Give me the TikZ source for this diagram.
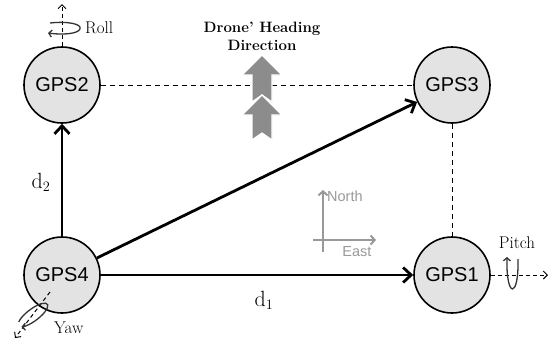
\documentclass[tikz,border=0pt]{standalone}
\usepackage{fontspec}
\newfontfamily\gpsfont{Liberation Sans}
\usetikzlibrary{arrows.meta}
\begin{document}
\begin{tikzpicture}[x=1pt,y=-1pt,
  gps/.style={circle, draw=black, line width=1.6pt, fill=gray!22, minimum size=76pt, inner sep=0pt,
    font=\gpsfont\fontsize{20}{22}\selectfont},
  link/.style={line width=2.8pt, -{Straight Barb[length=8pt,width=15pt]}},
  dashlink/.style={line width=1pt, dash pattern=on 5pt off 4pt},
  axisarrow/.style={line width=1pt, dash pattern=on 4pt off 3pt, -{Straight Barb[length=4pt,width=8pt]}},
  rot/.style={line width=1.3pt, draw=black!80, -{Straight Barb[length=3pt,width=7pt]}},
  lab/.style={font=\fontsize{17}{20}\selectfont, inner sep=0pt},
  dlab/.style={font=\fontsize{22}{24}\selectfont, inner sep=0pt},
  compass/.style={draw=black!40, line width=2pt, -{Straight Barb[length=4pt,width=9pt]}},
  compasslab/.style={text=black!40, font=\gpsfont\fontsize{14.5}{16}\selectfont, inner sep=0pt},
  heading/.style={fill=black!45, draw=white, line width=1.2pt},
  headlab/.style={font=\bfseries\fontsize{15}{18}\selectfont, align=center, inner sep=0pt}
]
\useasboundingbox[fill=white] (0,0) rectangle (555,346);

% GPS nodes
\node[gps] (g2) at (62,85) {GPS2};
\node[gps] (g3) at (452,85) {GPS3};
\node[gps] (g1) at (452,275) {GPS1};
\node[gps] (g4) at (62,275) {GPS4};

% dashed links
\draw[dashlink] (g2) -- (g3);
\draw[dashlink] (g3) -- (g1);

% heading arrows
\path[heading] (262,55) -- (282,75) -- (272,75) -- (272,102) -- (262,95) -- (252,102) -- (252,75) -- (242,75) -- cycle;
\path[heading] (262,95) -- (282,115) -- (272,115) -- (272,140) -- (262,133) -- (252,140) -- (252,115) -- (242,115) -- cycle;
\node[headlab] (hl) at (262,36) {Drone' Heading\\Direction};

% solid links
\draw[link] (g4) -- (g2);
\draw[link] (g4) -- (g1);
\draw[link] (g4) -- (g3);

\node[dlab] (d2) at (41,182) {d$_2$};
\node[dlab] (d1) at (264,300) {d$_1$};

% compass
\coordinate (nb) at (323,252);
\coordinate (nt) at (323,190);
\coordinate (el) at (313,240);
\coordinate (er) at (376,240);
\draw[compass] (nb) -- (nt);
\draw[compass] (el) -- (er);
\node[compasslab, anchor=west] (north) at (327,196) {North};
\node[compasslab] (east) at (357,252) {East};

% Roll
\coordinate (rolltip) at (62,4);
\draw[axisarrow] (g2.north) -- (rolltip);
\draw[rot] (50,23) .. controls (68,21) and (82,24) .. (80,29) .. controls (78,34) and (62,35) .. (48,33);
\node[lab, anchor=west] (roll) at (85,28) {Roll};

% Pitch
\coordinate (pitchtip) at (548,275);
\draw[axisarrow] (g1.east) -- (pitchtip);
\draw[rot] (518,259) .. controls (519,299) and (506,299) .. (507,257);
\node[lab] (pitch) at (517,243) {Pitch};

% Yaw
\coordinate (yawstart) at (50,292);
\coordinate (yawtip) at (15,338);
\draw[axisarrow] (yawstart) -- (yawtip);
\begin{scope}[shift={(33,315)}, rotate=37]
\draw[rot] (210:18 and 6) arc[start angle=210, end angle=515, x radius=18, y radius=6];
\end{scope}
\node[lab, anchor=west] (yaw) at (54,328) {Yaw};
\end{tikzpicture}
\end{document}
